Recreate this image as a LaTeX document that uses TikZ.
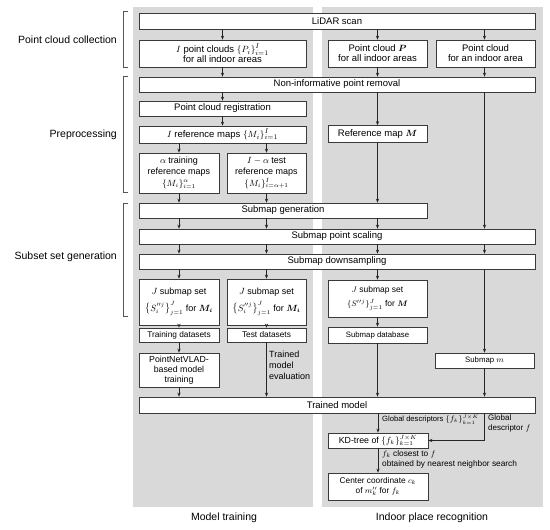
\documentclass[tikz,border=0pt]{standalone}
\usepackage{amsmath}
\usepackage{bm}
\usepackage{fontspec}
\setmainfont{Liberation Sans}
\usetikzlibrary{arrows.meta}
\definecolor{panelc}{HTML}{D9D9D9}
\definecolor{boxc}{HTML}{3A3A3A}
\definecolor{arrc}{HTML}{262626}
\definecolor{brc}{HTML}{555555}
\tikzset{
  box/.style={draw=boxc, fill=white, line width=0.7pt, inner sep=1pt, align=center,
    font=\fontsize{9.5}{11}\selectfont},
  smallbox/.style={box, font=\fontsize{8.3}{10}\selectfont},
  arr/.style={draw=arrc, line width=0.6pt, -{Stealth[length=4pt,width=3.2pt]}},
  lbl/.style={inner sep=0pt, align=left, font=\fontsize{8}{9.5}\selectfont},
  sidelbl/.style={inner sep=0pt, anchor=east, font=\fontsize{10.5}{12}\selectfont},
  panellbl/.style={inner sep=0pt, font=\fontsize{10.5}{12}\selectfont},
  brk/.style={draw=brc, line width=0.7pt},
  panel/.style={fill=panelc, draw=none}
}
\begin{document}
\begin{tikzpicture}[x=1pt,y=-1pt]
\useasboundingbox (0,0) rectangle (550,530);
% panels
\fill[panel] (133,7) rectangle (313,507);
\fill[panel] (322,7) rectangle (543,507);
\node[panellbl] (ptrain) at (224,518) {Model training};
\node[panellbl] (precog) at (432,518) {Indoor place recognition};
% side labels and brackets
\node[sidelbl] (lcol) at (117,40) {Point cloud collection};
\node[sidelbl] (lpre) at (117,135) {Preprocessing};
\node[sidelbl] (lsub) at (117,257) {Subset set generation};
\draw[brk] (128,11) -- (123,11) -- (123,67) -- (128,67);
\draw[brk] (128,76) -- (123,76) -- (123,192) -- (128,192);
\draw[brk] (128,203) -- (123,203) -- (123,316) -- (128,316);
% boxes
\node[box,minimum width=396,minimum height=16] (lidar) at (337,21) {LiDAR scan};
\node[box,minimum width=167,minimum height=27] (pcs) at (222.5,53.5) {$I$ point clouds $\{P_i\}_{i=1}^{I}$\\[-1pt]for all indoor areas};
\node[box,minimum width=99,minimum height=27] (pcP) at (377.5,53.5) {Point cloud $\bm{P}$\\[-1pt]for all indoor areas};
\node[box,minimum width=99,minimum height=27] (pcA) at (485.5,53.5) {Point cloud\\[-1pt]for an indoor area};
\node[box,minimum width=396,minimum height=15] (nonin) at (337,84.5) {Non-informative point removal};
\node[box,minimum width=167,minimum height=15] (reg) at (222.5,108.5) {Point cloud registration};
\node[box,minimum width=167,minimum height=17] (refs) at (222.5,134.5) {$I$ reference maps $\{M_i\}_{i=1}^{I}$};
\node[box,minimum width=99,minimum height=17] (refM) at (377.5,134) {Reference map $\bm{M}$};
\node[box,minimum width=80,minimum height=40,font=\fontsize{9}{10.5}\selectfont] (atrain) at (179,173) {$\alpha$ training\\reference maps\\[1.5pt]$\{M_i\}_{i=1}^{\alpha}$};
\node[box,minimum width=79,minimum height=40,font=\fontsize{9}{10.5}\selectfont] (atest) at (266.5,173) {$I-\alpha$ test\\reference maps\\[1.5pt]$\{M_i\}_{i=\alpha+1}^{I}$};
\node[box,minimum width=288,minimum height=15] (subgen) at (283,210.5) {Submap generation};
\node[box,minimum width=396,minimum height=15] (scaling) at (337,236.5) {Submap point scaling};
\node[box,minimum width=396,minimum height=15] (downs) at (337,261.5) {Submap downsampling};
\node[box,minimum width=80,minimum height=46,font=\fontsize{9}{11}\selectfont] (jtrain) at (179,302) {$J$ submap set\\[4pt]$\left\{S_i^{\prime\prime j}\right\}_{j=1}^{J}$ for $\bm{M_i}$};
\node[box,minimum width=79,minimum height=46,font=\fontsize{9}{11}\selectfont] (jtest) at (266.5,302) {$J$ submap set\\[4pt]$\left\{S_i^{\prime\prime j}\right\}_{j=1}^{J}$ for $\bm{M_i}$};
\node[box,minimum width=99,minimum height=37,font=\fontsize{8.5}{10.5}\selectfont] (jM) at (377.5,298.5) {$J$ submap set\\[3pt]$\{S^{\prime\prime j}\}_{j=1}^{J}$ for $\bm{M}$};
\node[smallbox,minimum width=80,minimum height=14] (trd) at (179,335) {Training datasets};
\node[smallbox,minimum width=79,minimum height=14] (ted) at (266.5,335) {Test datasets};
\node[smallbox,minimum width=99,minimum height=16,font=\fontsize{7.8}{9}\selectfont] (sdb) at (377.5,335) {Submap database};
\node[smallbox,minimum width=80,minimum height=34,font=\fontsize{8.8}{10}\selectfont] (pnv) at (179,370) {PointNetVLAD-\\based model\\training};
\node[smallbox,minimum width=99,minimum height=15,font=\fontsize{7.8}{9}\selectfont] (subm) at (484.5,360.5) {Submap $m$};
\node[box,minimum width=396,minimum height=16] (trained) at (337,405) {Trained model};
\node[box,minimum width=100,minimum height=15,font=\fontsize{8.8}{10}\selectfont] (kd) at (378,440.5) {KD-tree of $\{f_k\}_{k=1}^{J\times K}$};
\node[smallbox,minimum width=100,minimum height=27] (cc) at (378,486.5) {Center coordinate $c_k$\\of $m_k''$ for $f_k$};
% connectors
\draw[arr] (lidar.south -| pcs) -- (pcs);
\draw[arr] (lidar.south -| pcP) -- (pcP);
\draw[arr] (lidar.south -| subm) -- (pcA.north -| subm);
\draw[arr] (pcs) -- (nonin.north -| pcs);
\draw[arr] (pcP) -- (nonin.north -| pcP);
\draw[arr] (pcA.south -| subm) -- (nonin.north -| subm);
\draw[arr] (nonin.south -| reg) -- (reg);
\draw[arr] (nonin.south -| refM) -- (refM);
\draw[arr] (nonin.south -| subm) -- (scaling.north -| subm);
\draw[arr] (reg) -- (refs);
\draw[arr] (refs.south -| atrain) -- (atrain);
\draw[arr] (refs.south -| atest) -- (atest);
\draw[arr] (atrain.south) -- (subgen.north -| atrain);
\draw[arr] (atest.south) -- (subgen.north -| atest);
\draw[arr] (refM.south) -- (subgen.north -| refM);
\draw[arr] (subgen.south -| atrain) -- (scaling.north -| atrain);
\draw[arr] (subgen.south -| atest) -- (scaling.north -| atest);
\draw[arr] (subgen.south -| refM) -- (scaling.north -| refM);
\draw[arr] (scaling.south -| atrain) -- (downs.north -| atrain);
\draw[arr] (scaling.south -| atest) -- (downs.north -| atest);
\draw[arr] (scaling.south -| refM) -- (downs.north -| refM);
\draw[arr] (scaling.south -| subm) -- (downs.north -| subm);
\draw[arr] (downs.south -| jtrain) -- (jtrain);
\draw[arr] (downs.south -| jtest) -- (jtest);
\draw[arr] (downs.south -| jM) -- (jM);
\draw[arr] (downs.south -| subm) -- (subm);
\draw[arr] (jtrain) -- (trd);
\draw[arr] (jtest) -- (ted);
\draw[arr] (jM) -- (sdb);
\draw[arr] (trd) -- (pnv);
\draw[arr] (pnv.south) -- (trained.north -| pnv);
\draw[arr] (ted.south) -- (trained.north -| ted);
\draw[arr] (sdb.south) -- (trained.north -| sdb);
\draw[arr] (subm.south) -- (trained.north -| subm);
\draw[arr] (trained.south -| kd) -- (kd);
\draw[arr] (trained.south -| subm) |- (kd.east);
\draw[arr] (kd) -- (cc);
% connector labels
\node[lbl,anchor=north west,font=\fontsize{9}{11}\selectfont] (evl) at (269,351) {Trained\\model\\evaluation};
\node[lbl,anchor=west,font=\fontsize{7.6}{9}\selectfont] (gdl) at (382,419.5) {Global descriptors $\{f_k\}_{k=1}^{J\times K}$};
\node[lbl,anchor=north west] (gdf) at (488,415) {Global\\descriptor $f$};
\node[lbl,anchor=north west,font=\fontsize{8.3}{10}\selectfont] (nnl) at (382,450) {$f_k$ closest to $f$\\obtained by nearest neighbor search};
\end{tikzpicture}
\end{document}
